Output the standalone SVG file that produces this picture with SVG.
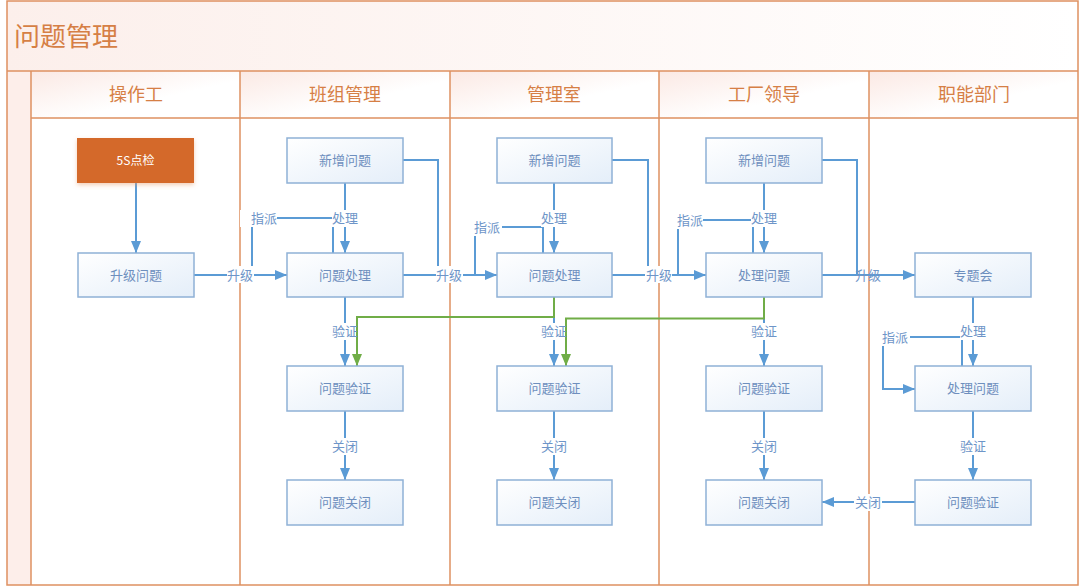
<svg xmlns="http://www.w3.org/2000/svg" width="1080" height="587" viewBox="0 0 1080 587">
<defs>
<linearGradient id="hdr" x1="0" y1="0" x2="1" y2="1">
<stop offset="0" stop-color="#FBE9E4"/>
<stop offset="0.6" stop-color="#FFFFFF"/>
</linearGradient>
<linearGradient id="title" x1="0" y1="0" x2="1" y2="0">
<stop offset="0" stop-color="#FCEFEB"/>
<stop offset="1" stop-color="#FFFFFF"/>
</linearGradient>
<linearGradient id="box" x1="0" y1="0" x2="1" y2="1">
<stop offset="0" stop-color="#FFFFFF"/>
<stop offset="1" stop-color="#E4EEF9"/>
</linearGradient>
<filter id="sh" x="-10%" y="-10%" width="130%" height="140%">
<feDropShadow dx="0" dy="2" stdDeviation="2" flood-color="#E8A070" flood-opacity="0.5"/>
</filter>
<marker id="ab" viewBox="0 0 12 10" refX="12" refY="5" markerWidth="12" markerHeight="10" markerUnits="userSpaceOnUse" orient="auto">
<path d="M0,0 L12,5 L0,10 Z" fill="#5B9BD5"/>
</marker>
<marker id="ag" viewBox="0 0 12 10" refX="12" refY="5" markerWidth="12" markerHeight="10" markerUnits="userSpaceOnUse" orient="auto">
<path d="M0,0 L12,5 L0,10 Z" fill="#70AD47"/>
</marker>
</defs>
<style>
.lane{fill:none;stroke:#DE9060;stroke-width:1.5}
.hdrt{font-family:"Noto Sans CJK SC","Noto Sans",sans-serif;font-size:18px;fill:#D67F45;text-anchor:middle}
.node rect{fill:url(#box);stroke:#8FB1D6;stroke-width:1.5}
.node text{font-family:"Noto Sans CJK SC","Noto Sans",sans-serif;font-size:13px;fill:#6E8FBE;text-anchor:middle}
.c{fill:none;stroke:#5B9BD5;stroke-width:2}
.g{fill:none;stroke:#70AD47;stroke-width:2}
.lbl{font-family:"Noto Sans CJK SC","Noto Sans",sans-serif;font-size:13px;fill:#6E95C8;text-anchor:middle}
.lblbg{fill:#FFFFFF}
</style>
<rect x="0" y="0" width="1080" height="587" fill="#FFFFFF"/>
<!-- title band -->
<rect x="7" y="1" width="1071" height="70" fill="url(#title)"/>
<text x="14" y="46" font-family="Noto Sans CJK SC,Noto Sans,sans-serif" font-size="26" fill="#D67F45">问题管理</text>
<!-- left strip -->
<rect x="7" y="71" width="24" height="514" fill="#FDEEEA"/>
<!-- header cells -->
<g id="headers">
<rect x="31" y="71" width="209" height="47" fill="url(#hdr)"/>
<rect x="240" y="71" width="210" height="47" fill="url(#hdr)"/>
<rect x="450" y="71" width="209" height="47" fill="url(#hdr)"/>
<rect x="659" y="71" width="210" height="47" fill="url(#hdr)"/>
<rect x="869" y="71" width="209" height="47" fill="url(#hdr)"/>
<text class="hdrt" x="136" y="101">操作工</text>
<text class="hdrt" x="345" y="101">班组管理</text>
<text class="hdrt" x="554" y="101">管理室</text>
<text class="hdrt" x="764" y="101">工厂领导</text>
<text class="hdrt" x="974" y="101">职能部门</text>
</g>
<!-- grid lines -->
<g id="grid">
<rect class="lane" x="7" y="1" width="1071" height="584"/>
<line class="lane" x1="7" y1="71" x2="1078" y2="71"/>
<line class="lane" x1="31" y1="118" x2="1078" y2="118" stroke="#EBB898"/>
<line class="lane" x1="31" y1="71" x2="31" y2="585"/>
<line class="lane" x1="240" y1="71" x2="240" y2="585"/>
<line class="lane" x1="450" y1="71" x2="450" y2="585"/>
<line class="lane" x1="659" y1="71" x2="659" y2="585"/>
<line class="lane" x1="869" y1="71" x2="869" y2="585"/>
</g>
<!-- connectors -->
<g id="connectors">
<path class="c" d="M136,183 V253" marker-end="url(#ab)"/>
<path class="c" d="M194,275 H287" marker-end="url(#ab)"/>
<path class="c" d="M345,183 V253" marker-end="url(#ab)"/>
<path class="c" d="M333,253 V218 H252 V275"/>
<path class="c" d="M403,160 H438 V275"/>
<path class="c" d="M403,275 H497" marker-end="url(#ab)"/>
<path class="c" d="M345,297 V366" marker-end="url(#ab)"/>
<path class="c" d="M345,411 V480" marker-end="url(#ab)"/>
<path class="c" d="M554,183 V253" marker-end="url(#ab)"/>
<path class="c" d="M543,253 V227 H475 V275"/>
<path class="c" d="M612,160 H648 V275"/>
<path class="c" d="M612,275 H706" marker-end="url(#ab)"/>
<path class="c" d="M554,297 V366" marker-end="url(#ab)"/>
<path class="c" d="M554,411 V480" marker-end="url(#ab)"/>
<path class="c" d="M764,183 V253" marker-end="url(#ab)"/>
<path class="c" d="M753,253 V220 H678 V275"/>
<path class="c" d="M822,160 H857 V275"/>
<path class="c" d="M822,275 H915" marker-end="url(#ab)"/>
<path class="c" d="M764,297 V366" marker-end="url(#ab)"/>
<path class="c" d="M764,411 V480" marker-end="url(#ab)"/>
<path class="c" d="M973,297 V366" marker-end="url(#ab)"/>
<path class="c" d="M962,366 V337 H883 V389 H915" marker-end="url(#ab)"/>
<path class="c" d="M973,411 V480" marker-end="url(#ab)"/>
<path class="c" d="M915,502 H822" marker-end="url(#ab)"/>
<path class="g" d="M554,297 V317 H357 V366" marker-end="url(#ag)"/>
<path class="g" d="M764,297 V318.5 H566 V366" marker-end="url(#ag)"/>
<rect class="lblbg" x="227" y="266" width="27" height="17"/>
<text class="lbl" x="240" y="280">升级</text>
<rect class="lblbg" x="240" y="210" width="37" height="17"/>
<text class="lbl" x="264" y="223">指派</text>
<rect class="lblbg" x="332" y="210" width="27" height="17"/>
<text class="lbl" x="345" y="223">处理</text>
<rect class="lblbg" x="436" y="266" width="27" height="17"/>
<text class="lbl" x="449" y="280">升级</text>
<rect class="lblbg" x="332" y="323" width="24" height="17"/>
<text class="lbl" x="345" y="336">验证</text>
<rect class="lblbg" x="332" y="438" width="27" height="17"/>
<text class="lbl" x="345" y="451">关闭</text>
<rect class="lblbg" x="470" y="219" width="32" height="17"/>
<text class="lbl" x="487" y="232">指派</text>
<rect class="lblbg" x="541" y="210" width="27" height="17"/>
<text class="lbl" x="554" y="223">处理</text>
<rect class="lblbg" x="645" y="266" width="27" height="17"/>
<text class="lbl" x="659" y="280">升级</text>
<rect class="lblbg" x="541" y="323" width="24" height="17"/>
<text class="lbl" x="554" y="336">验证</text>
<rect class="lblbg" x="541" y="438" width="27" height="17"/>
<text class="lbl" x="554" y="451">关闭</text>
<rect class="lblbg" x="673" y="212" width="30" height="17"/>
<text class="lbl" x="690" y="225">指派</text>
<rect class="lblbg" x="751" y="210" width="27" height="17"/>
<text class="lbl" x="764" y="223">处理</text>
<rect class="lblbg" x="751" y="323" width="27" height="17"/>
<text class="lbl" x="764" y="336">验证</text>
<rect class="lblbg" x="751" y="438" width="27" height="17"/>
<text class="lbl" x="764" y="451">关闭</text>
<text class="lbl" x="868" y="280">升级</text>
<rect class="lblbg" x="878" y="329" width="32" height="17"/>
<text class="lbl" x="895" y="342">指派</text>
<rect class="lblbg" x="960" y="323" width="27" height="17"/>
<text class="lbl" x="973" y="336">处理</text>
<rect class="lblbg" x="960" y="438" width="27" height="17"/>
<text class="lbl" x="973" y="451">验证</text>
<rect class="lblbg" x="854" y="494" width="28" height="17"/>
<text class="lbl" x="868" y="507">关闭</text>
</g>
<!-- nodes -->
<g id="n-5s"><rect x="77" y="138" width="117" height="45" fill="#D4692A" filter="url(#sh)"/><text x="135.5" y="165" font-family="Noto Sans CJK SC,Noto Sans,sans-serif" font-size="12" fill="#FFFFFF" text-anchor="middle">5S点检</text></g>
<g id="n-sjwt" class="node"><rect x="78" y="253" width="116" height="44"/><text x="136" y="280">升级问题</text></g>
<g id="n-bz-xz" class="node"><rect x="287" y="138" width="116" height="45"/><text x="345" y="165">新增问题</text></g>
<g id="n-bz-cl" class="node"><rect x="287" y="253" width="116" height="44"/><text x="345" y="280">问题处理</text></g>
<g id="n-bz-yz" class="node"><rect x="287" y="366" width="116" height="45"/><text x="345" y="393">问题验证</text></g>
<g id="n-bz-gb" class="node"><rect x="287" y="480" width="116" height="45"/><text x="345" y="507">问题关闭</text></g>
<g id="n-gl-xz" class="node"><rect x="497" y="138" width="115" height="45"/><text x="554.5" y="165">新增问题</text></g>
<g id="n-gl-cl" class="node"><rect x="497" y="253" width="115" height="44"/><text x="554.5" y="280">问题处理</text></g>
<g id="n-gl-yz" class="node"><rect x="497" y="366" width="115" height="45"/><text x="554.5" y="393">问题验证</text></g>
<g id="n-gl-gb" class="node"><rect x="497" y="480" width="115" height="45"/><text x="554.5" y="507">问题关闭</text></g>
<g id="n-ld-xz" class="node"><rect x="706" y="138" width="116" height="45"/><text x="764" y="165">新增问题</text></g>
<g id="n-ld-cl" class="node"><rect x="706" y="253" width="116" height="44"/><text x="764" y="280">处理问题</text></g>
<g id="n-ld-yz" class="node"><rect x="706" y="366" width="116" height="45"/><text x="764" y="393">问题验证</text></g>
<g id="n-ld-gb" class="node"><rect x="706" y="480" width="116" height="45"/><text x="764" y="507">问题关闭</text></g>
<g id="n-zn-ztw" class="node"><rect x="915" y="253" width="116" height="44"/><text x="973" y="280">专题会</text></g>
<g id="n-zn-cl" class="node"><rect x="915" y="366" width="116" height="45"/><text x="973" y="393">处理问题</text></g>
<g id="n-zn-yz" class="node"><rect x="915" y="480" width="116" height="45"/><text x="973" y="507">问题验证</text></g>
</svg>
